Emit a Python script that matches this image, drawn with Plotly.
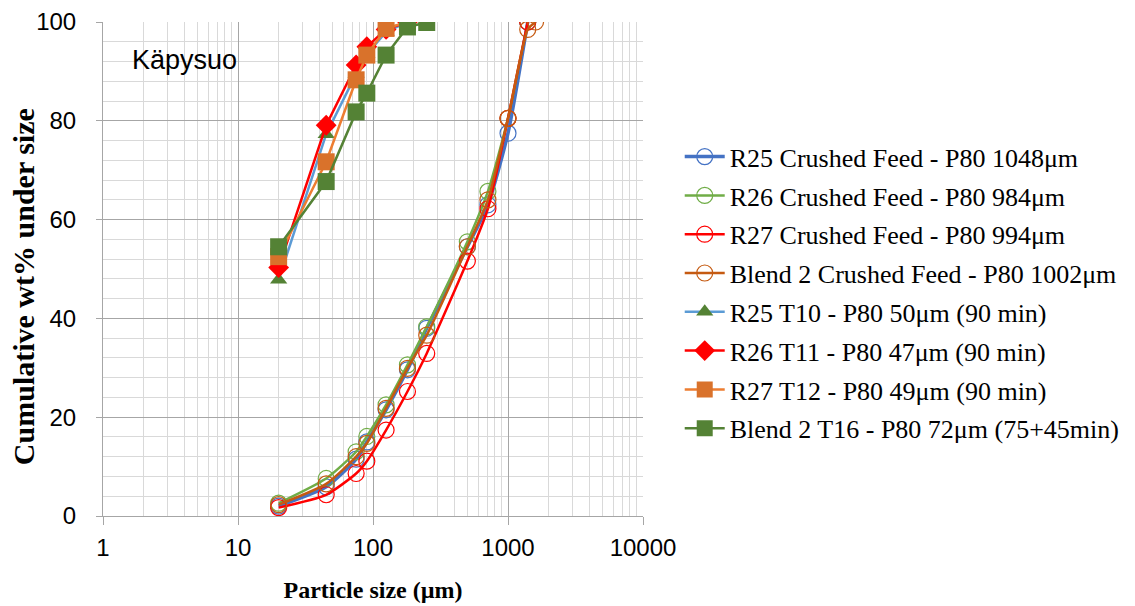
import plotly.graph_objects as go

# ---- data ----
feed_sizes = [20, 45, 75, 90, 125, 180, 250, 500, 710, 1000, 1400]
blend_feed_sizes = [20, 45, 75, 90, 125, 180, 250, 500, 710, 1000, 1400, 1600]
r25_feed = [2.0, 5.9, 11.5, 15.0, 21.5, 29.6, 38.0, 54.5, 63.0, 77.5, 100.0]
r26_feed = [2.6, 7.6, 13.0, 16.1, 22.5, 30.6, 38.3, 55.5, 65.7, 80.5, 100.0]
r27_feed = [1.7, 4.3, 8.6, 11.1, 17.4, 25.2, 32.9, 51.6, 62.2, 80.5, 100.0]
blend_feed = [2.3, 6.5, 12.0, 14.7, 21.8, 29.9, 36.6, 54.5, 64.0, 80.5, 98.5, 100.0]

grind_sizes = [20, 45, 75, 90, 125, 180]
blend_grind_sizes = [20, 45, 75, 90, 125, 180, 250]
r25_t10 = [47.8, 77.3, 89.5, 93.5, 98.0, 100.0]
r26_t11 = [50.3, 79.1, 91.3, 95.0, 98.5, 100.0]
r27_t12 = [52.5, 71.7, 88.3, 93.3, 98.7, 100.0]
blend_t16 = [54.5, 67.7, 81.8, 85.6, 93.3, 99.0, 99.9]

names = [
    "R25 Crushed Feed - P80 1048μm",
    "R26 Crushed Feed - P80 984μm",
    "R27 Crushed Feed - P80 994μm",
    "Blend 2 Crushed Feed - P80 1002μm",
    "R25 T10 - P80 50μm (90 min)",
    "R26 T11 - P80 47μm (90 min)",
    "R27 T12 - P80 49μm (90 min)",
    "Blend 2 T16 - P80 72μm (75+45min)",
]

fig = go.Figure()

def feed(x, y, name, color, width, g):
    fig.add_trace(go.Scatter(
        x=x, y=y, name=name, mode="lines+markers", legendgroup=g,
        line=dict(color=color, width=width, shape="spline", smoothing=0.6),
        marker=dict(symbol="circle-open", size=16, color=color, line=dict(width=1.2)),
    ))

def grind(x, y, name, lcolor, mcolor, symbol, size, g):
    fig.add_trace(go.Scatter(
        x=x, y=y, name=name, mode="lines+markers", legendgroup=g,
        line=dict(color=lcolor, width=2.5),
        marker=dict(symbol=symbol, size=size, color=mcolor, line=dict(width=0)),
    ))

feed(feed_sizes, r25_feed, names[0], "#4472C4", 3.5, "a")
feed(feed_sizes, r26_feed, names[1], "#70AD47", 2.5, "b")
feed(feed_sizes, r27_feed, names[2], "#FF0000", 2.5, "c")
feed(blend_feed_sizes, blend_feed, names[3], "#C55A11", 2.5, "d")
grind(grind_sizes, r25_t10, names[4], "#5B9BD5", "#548235", "triangle-up", 15, "e")
grind(grind_sizes, r26_t11, names[5], "#FF0000", "#FF0000", "diamond", 16, "f")
grind(grind_sizes, r27_t12, names[6], "#ED7D31", "#D9722B", "square", 17, "g")
grind(blend_grind_sizes, blend_t16, names[7], "#548235", "#548235", "square", 17, "h")

fig.update_layout(
    width=1135, height=606,
    margin=dict(l=103, r=492, t=22, b=90, autoexpand=False),
    paper_bgcolor="white", plot_bgcolor="white",
    showlegend=True,
    legend=dict(
        x=1.068, xanchor="left", y=0.452, yanchor="middle",
        font=dict(family="Liberation Serif", size=26, color="black"),
        tracegroupgap=2, itemwidth=40, bgcolor="rgba(0,0,0,0)",
    ),
    font=dict(family="Liberation Sans", size=24, color="black"),
    annotations=[
        dict(
            text="Käpysuo", x=0.05, y=0.923, xref="paper", yref="paper",
            xanchor="left", yanchor="middle", showarrow=False,
            font=dict(family="Liberation Sans", size=27, color="black"),
        ),
        dict(
            text="<b>Cumulative wt% under size</b>", x=-0.146, y=0.4636,
            xref="paper", yref="paper", xanchor="center", yanchor="middle",
            textangle=-90, showarrow=False,
            font=dict(family="Liberation Serif", size=30, color="black"),
        ),
    ],
)

fig.update_xaxes(
    type="log", range=[0, 4], automargin=False,
    tickvals=[1, 10, 100, 1000, 10000], ticktext=["1", "10", "100", "1000", "10000"],
    showgrid=True, gridcolor="#A6A6A6", gridwidth=1,
    minor=dict(showgrid=True, gridcolor="#D9D9D9", gridwidth=1, dtick="D1"),
    showline=True, linecolor="#A6A6A6", linewidth=1,
    ticks="outside", ticklen=8, tickcolor="#A6A6A6",
    tickfont=dict(family="Liberation Sans", size=24, color="black"),
    ticklabelstandoff=2,
    title=dict(text="<b>Particle size (µm)</b>", standoff=21,
               font=dict(family="Liberation Serif", size=24, color="black")),
    zeroline=False,
)
fig.update_yaxes(
    range=[0, 100], dtick=20, automargin=False,
    showgrid=True, gridcolor="#A6A6A6", gridwidth=1,
    minor=dict(showgrid=True, gridcolor="#D9D9D9", gridwidth=1, dtick=4),
    showline=True, linecolor="#A6A6A6", linewidth=1,
    ticks="outside", ticklen=6, tickcolor="#A6A6A6",
    tickfont=dict(family="Liberation Sans", size=24, color="black"),
    ticklabelstandoff=15,
    zeroline=False,
)

fig.write_html("out.html")
